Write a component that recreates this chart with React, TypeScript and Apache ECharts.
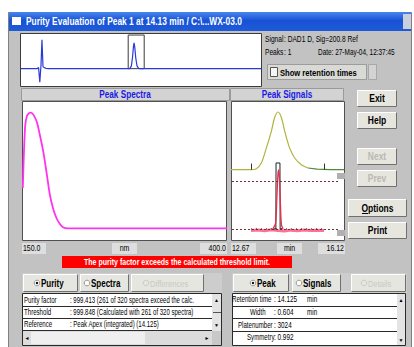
import React, { useEffect, useRef } from "react";
import * as echarts from "echarts";

// ---------------- data ----------------
// overview chromatogram (time in min, signal)
const chromTime = [0, 2.0, 2.2, 2.35, 2.5, 2.62, 2.75, 2.9, 3.1, 3.5, 13.6, 13.8, 13.95, 14.05, 14.13, 14.22, 14.35, 14.5, 14.7, 14.9, 30];
const chromSignal = [0, 0, 0.03, -0.39, 0.1, 0.83, 0.06, 0.03, 0.01, 0, 0, 0.08, 0.35, 0.62, 0.745, 0.62, 0.3, 0.08, 0.01, 0, 0];
const chromWindow = [13.4, 15.4];
const chromWindowTop = 0.97;

// peak spectrum (nm, normalised absorbance)
const spectrumNm = [151, 153.7, 156, 159.8, 161, 164, 168, 172, 176, 180, 184, 188, 192, 196, 200, 206, 250, 300, 350, 400];
const spectrumAbs = [0.35, 0.87, 0.97, 1.0, 1.0, 0.98, 0.92, 0.8, 0.66, 0.48, 0.29, 0.17, 0.09, 0.04, 0.01, 0, 0, 0, 0, 0];

// peak signals (min, scaled response)
const upperTime = [12.67, 13.2, 13.443, 13.595, 13.748, 13.901, 14.0, 14.105, 14.21, 14.31, 14.462, 14.615, 14.817, 15.021];
const upperVal = [50.6, 50.6, 51.3, 55.4, 66.1, 78.2, 88, 92.1, 88, 78.2, 66.1, 59.0, 54.1, 51.8];
const tailTime = [15.021, 15.3, 15.7, 16.12];
const tailVal = [51.8, 51.0, 50.7, 50.6];
const integrationTicks = [13.28, 15.51];
const tickRange = [50.6, 55];
const thresholdLevels = [42.4, 7.9];
const pinkTime = [13.28, 13.5, 13.7, 13.9, 14.1, 14.3, 14.5, 14.7, 14.9, 15.1, 15.3, 15.51];
const pinkVal = [6.8, 7.2, 6.6, 7.4, 6.9, 6.5, 7.1, 6.7, 7.2, 6.8, 7.0, 6.9];
const blackBaseTime = [13.28, 15.51];
const blackBaseVal = [8, 8];
const blackTime = [13.98, 14.04, 14.045, 14.165, 14.17, 14.24];
const blackVal = [8, 8, 55.4, 55.4, 8, 8];
const redTime = [13.95, 14.03, 14.07, 14.1, 14.12, 14.15, 14.18, 14.21, 14.26];
const redVal = [8, 12, 30, 46, 50.4, 44, 25, 11, 8];

// texts
const titleText = "Purity Evaluation of Peak 1 at 14.13 min / C:\\...WX-03.0";
const spectraTicks = ["150.0", "nm", "400.0"];
const signalTicks = ["12.67", "min", "16.12"];
const purityRows = [
  ["Purity factor", ": 999.413 (261 of 320 spectra exceed the calc."],
  ["Threshold", ": 999.848 (Calculated with 261 of 320 spectra)"],
  ["Reference", ": Peak Apex (integrated) (14.125)"],
];
const peakRows = [
  ["Retention time", ": 14.125", "min"],
  ["Width", ": 0.604", "min"],
  ["Platenumber", ": 3024", ""],
  ["Symmetry", ": 0.992", ""],
];

const zip = (a: number[], b: number[]) => a.map((v, i) => [v, b[i]]);

const FONT = "Liberation Sans";
function T(x: number, y: number, text: string, o: any = {}) {
  return {
    type: "text",
    x,
    y,
    scaleX: o.sx ?? 0.8,
    silent: true,
    style: {
      text,
      fill: o.fill ?? "#000",
      fontSize: o.size ?? 9,
      fontWeight: o.bold ? "bold" : "normal",
      fontFamily: FONT,
      textAlign: o.align ?? "left",
      textVerticalAlign: "middle",
    },
  };
}
function R(x: number, y: number, w: number, h: number, fill: any, stroke?: string, lw = 1) {
  const off = stroke ? 0.5 : 0;
  return {
    type: "rect",
    silent: true,
    shape: { x: x + off, y: y + off, width: w - (stroke ? 1 : 0), height: h - (stroke ? 1 : 0) },
    style: { fill, stroke: stroke ?? null, lineWidth: lw },
  };
}
function L(x1: number, y1: number, x2: number, y2: number, stroke: string) {
  return { type: "line", silent: true, shape: { x1, y1, x2, y2 }, style: { stroke, lineWidth: 1 } };
}
function bevel(x: number, y: number, w: number, h: number, face: string) {
  return [
    R(x, y, w, h, face),
    { type: "polyline", silent: true, shape: { points: [[x + 0.5, y + h - 1], [x + 0.5, y + 0.5], [x + w - 1, y + 0.5]] }, style: { stroke: "#ffffff", fill: null } },
    { type: "polyline", silent: true, shape: { points: [[x + 0.5, y + h - 0.5], [x + w - 0.5, y + h - 0.5], [x + w - 0.5, y + 0.5]] }, style: { stroke: "#707070", fill: null } },
  ];
}
function button(x: number, y: number, w: number, h: number, label: string, disabled = false) {
  return [
    ...bevel(x, y, w, h, "#e6e5de"),
    T(x + w / 2, y + h / 2 + 0.5, label, { bold: true, size: 10, sx: 0.85, align: "center", fill: disabled ? "#b9b9b2" : "#000" }),
  ];
}
function radio(x: number, y: number, on: boolean, disabled = false) {
  const els: any[] = [
    { type: "circle", silent: true, shape: { cx: x, cy: y, r: 2.8 }, style: { fill: disabled ? "#e6e6e0" : "#ffffff", stroke: disabled ? "#c4c4bc" : "#808080", lineWidth: 0.8 } },
  ];
  if (on) els.push({ type: "circle", silent: true, shape: { cx: x, cy: y, r: 1.2 }, style: { fill: "#000" } });
  return els;
}

function buildGraphics() {
  const G: any[] = [];
  // dialog body
  G.push(R(8, 12, 404, 335, "#c2c2c2"));
  G.push(R(8, 12, 404, 336, null, "#808080"));
  // title bar
  G.push(R(9, 12, 402, 19, { type: "linear", x: 0, y: 0, x2: 0, y2: 1, colorStops: [{ offset: 0, color: "#4a86ee" }, { offset: 0.45, color: "#1752d6" }, { offset: 1, color: "#1e5bd8" }] }));
  G.push(R(12, 17, 9, 8, "#ffffff"));
  G.push(T(26, 21.5, titleText, { bold: true, size: 10.5, sx: 0.8, fill: "#ffffff" }));
  G.push(R(403, 14, 8, 15, "#c9cfdf"));

  // overview chromatogram frame
  G.push(R(20, 33, 242, 54, "#ffffff", "#3c3c3c"));

  // info texts
  G.push(T(265, 39.5, "Signal", { size: 8.5, sx: 0.78 }));
  G.push(T(284, 39.5, ": DAD1 D, Sig=200.8 Ref", { size: 8.5, sx: 0.78 }));
  G.push(T(265, 52.5, "Peaks", { size: 8.5, sx: 0.78 }));
  G.push(T(284, 52.5, ": 1", { size: 8.5, sx: 0.78 }));
  G.push(T(318, 52.5, "Date: 27-May-04, 12:37:45", { size: 8.5, sx: 0.76 }));
  // checkbox
  G.push(R(267, 64, 100, 16, "#d9d9d6", "#9c9c9c"));
  G.push(R(270, 67, 8, 10, "#f6f6f6", "#555555"));
  G.push(T(280, 72.5, "Show retention times", { bold: true, size: 9.5, sx: 0.8 }));
  G.push(R(368, 64, 9, 16, "#d3d3d3", "#a8a8a8"));

  // panel headers
  G.push(R(21, 88, 209, 13, "#d3d3d3", "#9a9a9a"));
  G.push(R(230, 88, 114, 13, "#d3d3d3", "#9a9a9a"));
  G.push(T(125, 94.5, "Peak Spectra", { bold: true, size: 10, sx: 0.82, align: "center", fill: "#1a1ae6" }));
  G.push(T(287, 94.5, "Peak Signals", { bold: true, size: 10, sx: 0.82, align: "center", fill: "#1a1ae6" }));

  // plot frames
  G.push(R(22, 101, 205, 140, "#ffffff", "#505050"));
  G.push(R(231, 101, 114, 140, "#ffffff", "#505050"));
  // small unit boxes at the right of the signals plot
  G.push(R(337, 173, 8, 6, "#b0b0b0"));
  G.push(R(337, 230, 8, 6, "#b0b0b0"));

  // tick label boxes
  const boxes = [
    [22, 24, spectraTicks[0], "left"],
    [112, 25, spectraTicks[1], "center"],
    [200, 27, spectraTicks[2], "right"],
    [231, 25, signalTicks[0], "left"],
    [277, 25, signalTicks[1], "center"],
    [318, 27, signalTicks[2], "right"],
  ] as const;
  boxes.forEach(([x, w, t, a]) => {
    G.push(R(x, 243, w, 11, "#dedede"));
    const tx = a === "left" ? x + 1 : a === "right" ? x + w - 1 : x + w / 2;
    G.push(T(tx, 248.5, t, { size: 8.5, sx: 0.82, align: a }));
  });

  // red warning
  G.push(R(62, 256, 230, 12, "#ff0000"));
  G.push(T(177, 262.5, "The purity factor exceeds the calculated threshold limit.", { bold: true, size: 9, sx: 0.78, align: "center", fill: "#ffffff" }));

  // left tab strip
  G.push(R(22, 273, 200, 20, "#cdcdcd"));
  G.push(...bevel(23, 274, 55, 18, "#e6e6e0"));
  G.push(...bevel(80, 274, 49, 18, "#e6e6e0"));
  G.push(...bevel(131, 274, 73, 18, "#e6e6e0"));
  G.push(...radio(37, 283, true));
  G.push(T(41, 283.5, "Purity", { bold: true, size: 10, sx: 0.8 }));
  G.push(...radio(87, 283, false));
  G.push(T(91, 283.5, "Spectra", { bold: true, size: 10, sx: 0.8 }));
  G.push(...radio(146, 283, false, true));
  G.push(T(150, 283.5, "Differences", { size: 9.5, sx: 0.8, fill: "#c9c9c2" }));

  // right tab strip
  G.push(R(232, 273, 175, 20, "#cdcdcd"));
  G.push(...bevel(233, 274, 56, 18, "#e6e6e0"));
  G.push(...bevel(292, 274, 49, 18, "#e6e6e0"));
  G.push(...bevel(351, 274, 55, 18, "#e6e6e0"));
  G.push(...radio(253, 283, true));
  G.push(T(257, 283.5, "Peak", { bold: true, size: 10, sx: 0.8 }));
  G.push(...radio(299, 283, false));
  G.push(T(303, 283.5, "Signals", { bold: true, size: 10, sx: 0.8 }));
  G.push(...radio(364, 283, false, true));
  G.push(T(368, 283.5, "Details", { size: 9.5, sx: 0.8, fill: "#c9c9c2" }));

  // left list box
  G.push(R(22, 293, 200, 53, "#ffffff", "#2a2a2a"));
  [306, 318, 330].forEach((y) => G.push(L(22, y + 0.5, 212, y + 0.5, "#2a2a2a")));
  G.push(R(212, 294, 9, 37, "#e4e4e4"));
  G.push(T(216.5, 299.5, "▲", { size: 5, sx: 1, align: "center" }));
  G.push(L(213, 312.5, 221, 312.5, "#555555"));
  G.push(T(216.5, 325, "▼", { size: 5, sx: 1, align: "center" }));
  G.push(R(23, 331, 189, 14, "#dcdcdc"));
  G.push(R(31, 332, 114, 12, "#efefef"));
  G.push(T(27, 338, "◄", { size: 5, sx: 1, align: "center" }));
  G.push(T(207, 338, "►", { size: 5, sx: 1, align: "center" }));
  G.push(R(212, 331, 9, 14, "#c8c8c8"));
  purityRows.forEach((r, i) => {
    const y = 300 + i * 12.3;
    G.push(T(24, y, r[0], { size: 8.5, sx: 0.72 }));
    G.push(T(70, y, r[1], { size: 8.5, sx: 0.71 }));
  });

  // right list box
  G.push(R(232, 293, 174, 53, "#ffffff", "#2a2a2a"));
  [306, 318, 331].forEach((y) => G.push(L(232, y + 0.5, 397, y + 0.5, "#2a2a2a")));
  G.push(R(397, 294, 8, 51, "#e4e4e4"));
  G.push(T(401, 299.5, "▲", { size: 5, sx: 1, align: "center" }));
  G.push(T(401, 340, "▼", { size: 5, sx: 1, align: "center" }));
  const labelX = [232, 250, 238, 247];
  peakRows.forEach((r, i) => {
    const y = 299.5 + i * 12.6;
    G.push(T(labelX[i], y, r[0], { size: 8.5, sx: 0.72 }));
    G.push(T(274, y, r[1], { size: 8.5, sx: 0.75 }));
    if (r[2]) G.push(T(307, y, r[2], { size: 8.5, sx: 0.75 }));
  });

  // buttons
  G.push(...button(357, 90, 40, 17, "Exit"));
  G.push(...button(357, 112, 40, 17, "Help"));
  G.push(...button(357, 148, 40, 17, "Next", true));
  G.push(...button(357, 170, 40, 17, "Prev", true));
  G.push(...button(348, 199, 59, 18, "Options"));
  G.push(L(362, 213.5, 368, 213.5, "#000000"));
  G.push(...button(348, 222, 59, 17, "Print"));
  return G;
}

export default function App() {
  const ref = useRef<HTMLDivElement>(null);
  useEffect(() => {
    if (!ref.current) return;
    const chart = echarts.init(ref.current, undefined, { renderer: "svg" });
    const noSym = { showSymbol: false, symbol: "none", silent: true };
    chart.setOption({
      animation: false,
      backgroundColor: "#ffffff",
      grid: [
        { left: 21, top: 34, width: 240, height: 52, show: false },
        { left: 22, top: 101, width: 205, height: 139, show: false },
        { left: 231, top: 101, width: 113, height: 139, show: false },
      ],
      xAxis: [
        { type: "value", gridIndex: 0, min: 0, max: 30, show: false },
        { type: "value", gridIndex: 1, min: 150, max: 400, show: false },
        { type: "value", gridIndex: 2, min: 12.67, max: 16.12, show: false },
      ],
      yAxis: [
        { type: "value", gridIndex: 0, min: -0.5, max: 1, show: false },
        { type: "value", gridIndex: 1, min: -0.1, max: 1.1, show: false },
        { type: "value", gridIndex: 2, min: 0, max: 100, show: false },
      ],
      graphic: { elements: buildGraphics() },
      series: [
        {
          type: "line", xAxisIndex: 0, yAxisIndex: 0, ...noSym,
          data: zip(chromTime, chromSignal),
          lineStyle: { color: "#2a3ad6", width: 1.2 },
          markArea: {
            silent: true,
            itemStyle: { color: "rgba(0,0,0,0)", borderColor: "#3a3a3a", borderWidth: 1 },
            data: [[{ coord: [chromWindow[0], 0] }, { coord: [chromWindow[1], chromWindowTop] }]],
          },
        },
        {
          type: "line", xAxisIndex: 1, yAxisIndex: 1, ...noSym, smooth: 0.3,
          data: zip(spectrumNm, spectrumAbs),
          lineStyle: { color: "#ff33ee", width: 1.8 },
        },
        {
          type: "line", xAxisIndex: 2, yAxisIndex: 2, ...noSym, smooth: 0.3,
          data: zip(upperTime, upperVal),
          lineStyle: { color: "#b0b43c", width: 1.2 },
          markLine: {
            silent: true, symbol: ["none", "none"], label: { show: false },
            data: [
              ...thresholdLevels.map((v) => [
                { coord: [12.7, v], lineStyle: { color: "#6e2f3f", type: [2, 2], width: 1 } },
                { coord: [15.95, v] },
              ]),
              ...integrationTicks.map((t) => [
                { coord: [t, tickRange[0]], lineStyle: { color: "#333333", type: "solid", width: 1 } },
                { coord: [t, tickRange[1]] },
              ]),
            ],
          },
        },
        {
          type: "line", xAxisIndex: 2, yAxisIndex: 2, ...noSym,
          data: zip(tailTime, tailVal),
          lineStyle: { color: "#4f8a3c", width: 1.2 },
        },
        {
          type: "line", xAxisIndex: 2, yAxisIndex: 2, ...noSym,
          data: zip(pinkTime, pinkVal),
          lineStyle: { color: "#ff7094", width: 3 },
        },
        {
          type: "line", xAxisIndex: 2, yAxisIndex: 2, ...noSym,
          data: zip(blackBaseTime, blackBaseVal),
          lineStyle: { color: "#333333", width: 1, type: [1, 4] },
        },
        {
          type: "line", xAxisIndex: 2, yAxisIndex: 2, ...noSym,
          data: zip(blackTime, blackVal),
          lineStyle: { color: "#222222", width: 1 },
        },
        {
          type: "line", xAxisIndex: 2, yAxisIndex: 2, ...noSym, smooth: 0.3,
          data: zip(redTime, redVal),
          lineStyle: { color: "#e3304c", width: 1.3 },
        },
      ],
    });
    return () => chart.dispose();
  }, []);
  return (
    <div
      ref={ref}
      style={{ position: "absolute", left: 0, top: 0, width: 414, height: 347, background: "#fff" }}
    />
  );
}
